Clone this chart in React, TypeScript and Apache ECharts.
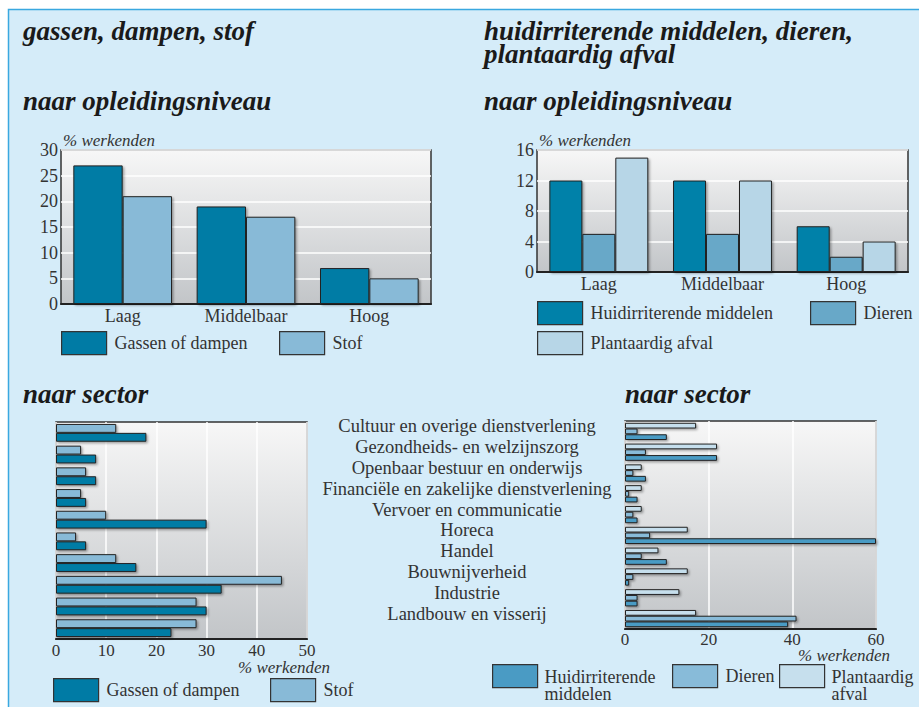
import React, { useEffect, useRef } from "react";
import * as echarts from "echarts";

const FONT = "Liberation Serif";

const educationLevels = ["Laag", "Middelbaar", "Hoog"];
const gasEdu = [27, 19, 7];
const dustEdu = [21, 17, 5];
const skinEdu = [12, 12, 6];
const animalEdu = [5, 5, 2];
const plantEdu = [15, 12, 4];

const sectors = [
  "Cultuur en overige dienstverlening",
  "Gezondheids- en welzijnszorg",
  "Openbaar bestuur en onderwijs",
  "Financiële en zakelijke dienstverlening",
  "Vervoer en communicatie",
  "Horeca",
  "Handel",
  "Bouwnijverheid",
  "Industrie",
  "Landbouw en visserij",
];
const gasSector = [18, 8, 8, 6, 30, 6, 16, 33, 30, 23];
const dustSector = [12, 5, 6, 5, 10, 4, 12, 45, 28, 28];
const skinSector = [10, 22, 5, 3, 3, 60, 10, 1, 3, 39];
const animalSector = [3, 5, 2, 1, 2, 6, 4, 2, 3, 41];
const plantSector = [17, 22, 4, 4, 4, 15, 8, 15, 13, 17];

const titles = [
  { text: "gassen, dampen, stof", x: 23, y: 31 },
  { text: "naar opleidingsniveau", x: 23, y: 101 },
  { text: "huidirriterende middelen, dieren,\nplantaardig afval", x: 484, y: 42.5 },
  { text: "naar opleidingsniveau", x: 484, y: 101 },
  { text: "naar sector", x: 23, y: 394 },
  { text: "naar sector", x: 625, y: 394 },
];

const plotBg = {
  type: "linear",
  x: 0,
  y: 0,
  x2: 0,
  y2: 1,
  colorStops: [
    { offset: 0, color: "#f7f7f7" },
    { offset: 1, color: "#c2c5c8" },
  ],
};

const barStyle = (color: string) => ({
  color,
  borderColor: "#222",
  borderWidth: 1,
  shadowColor: "rgba(0,0,0,0.35)",
  shadowOffsetX: 1.5,
  shadowOffsetY: 1.5,
  shadowBlur: 2,
});

const legendBase = {
  itemWidth: 45,
  itemHeight: 23,
  itemGap: 0,
  padding: 0,
  icon: "rect",
  selectedMode: false,
  itemStyle: { borderColor: "#333", borderWidth: 1.2 },
  textStyle: { fontFamily: FONT, fontSize: 18, color: "#333", padding: [0, 0, 0, 3] },
};

// swatch in the top 23px of a 41px-high legend item, so two-line labels start level with it
const tallSwatch = "path://M0,0L45,0L45,23L0,23Z M0,41";

const multiLineLegend = {
  ...legendBase,
  itemHeight: 41,
  icon: tallSwatch,
  textStyle: {
    fontFamily: FONT,
    fontSize: 18,
    color: "#333",
    lineHeight: 17,
    padding: [0, 0, 0, 2],
  },
};

const gridBase = {
  show: true,
  backgroundColor: plotBg,
  borderColor: "#333",
  borderWidth: 1.5,
  containLabel: false,
  outerBoundsMode: "none",
};

const App: React.FC = () => {
  const ref = useRef<HTMLDivElement>(null);
  useEffect(() => {
    if (!ref.current) return;
    const chart = echarts.init(ref.current, undefined, { renderer: "svg" });
    const labelStyle = { fontFamily: FONT, fontSize: 18, color: "#333" };
    const nameStyle = { fontFamily: FONT, fontSize: 17, fontStyle: "italic", color: "#333" };
    const option: any = {
      animation: false,
      backgroundColor: "#ffffff",
      textStyle: { fontFamily: FONT },
      graphic: [
        {
          type: "rect",
          z: -10,
          shape: { x: 8.5, y: 9.5, width: 1000, height: 1000 },
          style: { fill: "#d5ecf9", stroke: "#3aa8e0", lineWidth: 1.5 },
        },
        ...titles.map((t) => ({
          type: "text",
          x: t.x,
          y: t.y,
          style: {
            text: t.text,
            fontFamily: FONT,
            fontSize: 27,
            fontWeight: "bold",
            fontStyle: "italic",
            lineHeight: 23,
            fill: "#1a1a1a",
            verticalAlign: "middle",
          },
        })),
      ],
      grid: [
        { ...gridBase, left: 61, top: 150, width: 370, height: 154 },
        { ...gridBase, left: 537, top: 150, width: 371, height: 122 },
        { ...gridBase, left: 56, top: 422, width: 251, height: 217 },
        { ...gridBase, left: 625, top: 421, width: 251, height: 208 },
      ],
      xAxis: [
        {
          gridIndex: 0,
          type: "category",
          data: educationLevels,
          axisTick: { show: false },
          axisLine: { lineStyle: { color: "#222", width: 2 } },
          axisLabel: { ...labelStyle, margin: 3 },
        },
        {
          gridIndex: 1,
          type: "category",
          data: educationLevels,
          axisTick: { show: false },
          axisLine: { lineStyle: { color: "#222", width: 2 } },
          axisLabel: { ...labelStyle, margin: 3 },
        },
        {
          gridIndex: 2,
          type: "value",
          min: 0,
          max: 50,
          interval: 10,
          axisTick: { show: false },
          axisLine: { show: true, lineStyle: { color: "#222", width: 2 } },
          axisLabel: { ...labelStyle, fontSize: 17, margin: 3 },
          splitLine: { lineStyle: { color: "#ffffff", width: 1.5 } },
          name: "% werkenden",
          nameLocation: "end",
          nameGap: -69,
          nameMoveOverlap: false,
          nameTextStyle: { ...nameStyle, verticalAlign: "top", padding: [20, 0, 0, 0] },
        },
        {
          gridIndex: 3,
          type: "value",
          min: 0,
          max: 60,
          interval: 20,
          axisTick: { show: false },
          axisLine: { show: true, lineStyle: { color: "#222", width: 2 } },
          axisLabel: { ...labelStyle, fontSize: 17, margin: 2 },
          splitLine: { lineStyle: { color: "#ffffff", width: 1.5 } },
          name: "% werkenden",
          nameLocation: "end",
          nameGap: -78,
          nameMoveOverlap: false,
          nameTextStyle: { ...nameStyle, verticalAlign: "top", padding: [18, 0, 0, 0] },
        },
      ],
      yAxis: [
        {
          gridIndex: 0,
          type: "value",
          min: 0,
          max: 30,
          interval: 5,
          axisTick: { show: false },
          axisLine: { show: false },
          axisLabel: { ...labelStyle, margin: 3 },
          splitLine: { lineStyle: { color: "#ffffff", width: 1.5 } },
          name: "% werkenden",
          nameLocation: "end",
          nameGap: 1,
          nameMoveOverlap: false,
          nameTextStyle: { ...nameStyle, align: "left", verticalAlign: "bottom", padding: [0, 0, 0, 2] },
        },
        {
          gridIndex: 1,
          type: "value",
          min: 0,
          max: 16,
          interval: 4,
          axisTick: { show: false },
          axisLine: { show: false },
          axisLabel: { ...labelStyle, margin: 3 },
          splitLine: { lineStyle: { color: "#ffffff", width: 1.5 } },
          name: "% werkenden",
          nameLocation: "end",
          nameGap: 1,
          nameMoveOverlap: false,
          nameTextStyle: { ...nameStyle, align: "left", verticalAlign: "bottom", padding: [0, 0, 0, 2] },
        },
        {
          gridIndex: 2,
          type: "category",
          data: sectors,
          inverse: true,
          axisTick: { show: false },
          axisLine: { show: false },
          axisLabel: { show: false },
        },
        {
          gridIndex: 3,
          type: "category",
          data: sectors,
          inverse: true,
          axisTick: { show: false },
          axisLine: { show: false },
          axisLabel: {
            ...labelStyle,
            fontSize: 18.5,
            interval: 0,
            margin: 158,
            align: "center",
            verticalAlign: "bottom",
            lineHeight: 10,
          },
        },
      ],
      legend: [
        { ...legendBase, left: 61, top: 331, data: ["Gassen of dampen"] },
        { ...legendBase, left: 279, top: 331, data: ["Stof"] },
        { ...legendBase, left: 537, top: 301, data: ["Huidirriterende middelen"] },
        { ...legendBase, left: 810, top: 301, data: [{ name: "Dieren", itemStyle: { color: "#68a8c8" } }] },
        { ...legendBase, left: 537, top: 331, data: ["Plantaardig afval"] },
        { ...legendBase, left: 53, top: 678, data: ["Gassen of dampen"] },
        { ...legendBase, left: 270, top: 678, data: ["Stof"] },
        { ...multiLineLegend, left: 492, top: 664, data: ["Huidirriterende\nmiddelen"] },
        { ...legendBase, left: 672, top: 664, data: [{ name: "Dieren", itemStyle: { color: "#88bbd9" } }] },
        { ...multiLineLegend, left: 779, top: 664, data: ["Plantaardig\nafval"] },
      ],
      series: [
        { type: "bar", name: "Gassen of dampen", xAxisIndex: 0, yAxisIndex: 0, data: gasEdu, barGap: "0%", barCategoryGap: "20%", itemStyle: barStyle("#007ba5") },
        { type: "bar", name: "Stof", xAxisIndex: 0, yAxisIndex: 0, data: dustEdu, barGap: "0%", barCategoryGap: "20%", itemStyle: barStyle("#88bad7") },
        { type: "bar", name: "Huidirriterende middelen", xAxisIndex: 1, yAxisIndex: 1, data: skinEdu, barGap: "0%", barCategoryGap: "20%", itemStyle: barStyle("#0081a9") },
        { type: "bar", name: "Dieren", xAxisIndex: 1, yAxisIndex: 1, data: animalEdu, barGap: "0%", barCategoryGap: "20%", itemStyle: barStyle("#68a8c8") },
        { type: "bar", name: "Plantaardig afval", xAxisIndex: 1, yAxisIndex: 1, data: plantEdu, barGap: "0%", barCategoryGap: "20%", itemStyle: barStyle("#b7d6e7") },
        { type: "bar", name: "Stof", xAxisIndex: 2, yAxisIndex: 2, data: dustSector, barGap: "0%", barCategoryGap: "18%", itemStyle: barStyle("#88bad7") },
        { type: "bar", name: "Gassen of dampen", xAxisIndex: 2, yAxisIndex: 2, data: gasSector, barGap: "0%", barCategoryGap: "18%", itemStyle: barStyle("#007ba5") },
        { type: "bar", name: "Plantaardig\nafval", xAxisIndex: 3, yAxisIndex: 3, data: plantSector, barGap: "0%", barCategoryGap: "17%", itemStyle: barStyle("#c6dfed") },
        { type: "bar", name: "Dieren", xAxisIndex: 3, yAxisIndex: 3, data: animalSector, barGap: "0%", barCategoryGap: "17%", itemStyle: barStyle("#88bbd9") },
        { type: "bar", name: "Huidirriterende\nmiddelen", xAxisIndex: 3, yAxisIndex: 3, data: skinSector, barGap: "0%", barCategoryGap: "17%", itemStyle: barStyle("#4a9bc4") },
      ],
    };
    chart.setOption(option);
    return () => chart.dispose();
  }, []);
  return (
    <div
      ref={ref}
      style={{ position: "absolute", left: 0, top: 0, width: 919, height: 707 }}
    />
  );
};

export default App;
